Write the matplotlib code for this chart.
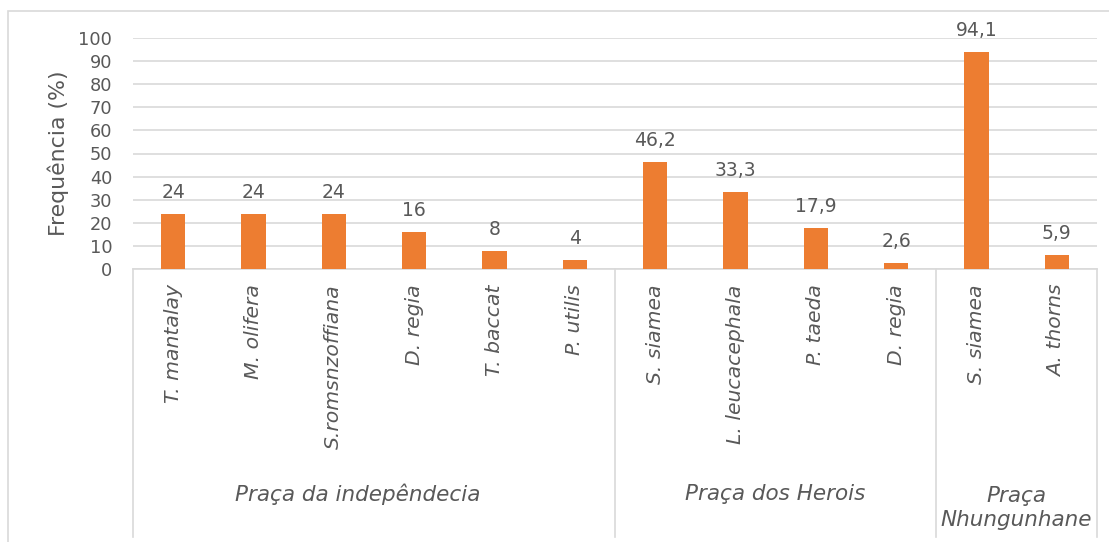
import matplotlib.pyplot as plt
from matplotlib.patches import Rectangle
from matplotlib.lines import Line2D

species = ["T. mantalay", "M. olifera", "S.romsnzoffiana", "D. regia", "T. baccat", "P. utilis",
           "S. siamea", "L. leucacephala", "P. taeda", "D. regia",
           "S. siamea", "A. thorns"]
values = [24, 24, 24, 16, 8, 4, 46.2, 33.3, 17.9, 2.6, 94.1, 5.9]
value_labels = ["24", "24", "24", "16", "8", "4", "46,2", "33,3", "17,9", "2,6", "94,1", "5,9"]
groups = ["Praça da indepêndecia", "Praça dos Herois", "Praça\nNhungunhane"]
group_sizes = [6, 4, 2]

plt.rcParams['font.family'] = ['DejaVu Sans']
grey = '#595959'
orange = '#ED7D31'

fig = plt.figure(figsize=(11.09, 5.42), dpi=100)
ax = fig.add_axes([133 / 1109, 1 - 269 / 542, (1097 - 133) / 1109, 231 / 542])

# outer chart border
fig.patches.append(Rectangle((8 / 1109, -0.01), 1.02, 1 - 11 / 542 + 0.01, transform=fig.transFigure,
                             fill=False, edgecolor='#d9d9d9', linewidth=1.2))

x = list(range(len(values)))
ax.bar(x, values, width=0.3, color=orange, zorder=3)
for xi, v, lab in zip(x, values, value_labels):
    ax.annotate(lab, (xi, v), xytext=(0, 11.5), textcoords='offset points',
                ha='center', va='baseline', fontsize=13.5, color=grey)

ax.set_xlim(-0.5, len(values) - 0.5)
ax.set_ylim(0, 100)
ax.set_yticks(range(0, 101, 10))
ax.yaxis.grid(True, color='#d9d9d9', linewidth=1.2, zorder=0)
ax.tick_params(axis='y', length=0, pad=15, labelsize=12.8, labelcolor=grey)
ax.set_xticks([])
for s in ['top', 'right', 'left']:
    ax.spines[s].set_visible(False)
ax.spines['bottom'].set_color('#d9d9d9')
ax.spines['bottom'].set_linewidth(1.2)
ax.set_ylabel('Frequência (%)', fontsize=15.8, color=grey)
ax.yaxis.set_label_coords(-0.078, 0.5)
ax.yaxis.label.set_verticalalignment('center')

tr = ax.get_xaxis_transform()
for xi, name in zip(x, species):
    ax.text(xi, -0.067, name, transform=tr, rotation=90, ha='center', va='top',
            fontsize=14.7, style='italic', color=grey)

start = -0.5
bounds = [start]
for i, (g, n) in enumerate(zip(groups, group_sizes)):
    mid = start + n / 2
    if i == 0:
        mid -= 0.2  # first group label sits a little left of centre in the original
    ax.text(mid, -1.035 if '\n' in g else -0.975, g, transform=tr, ha='center', va='center',
            fontsize=15.5, style='italic', color=grey, linespacing=1.2)
    start += n
    bounds.append(start)
for b in bounds:
    ax.add_line(Line2D([b, b], [0, -1.16], transform=tr, color='#d9d9d9', linewidth=1.2, clip_on=False))

fig.savefig('out.png', dpi=100)
